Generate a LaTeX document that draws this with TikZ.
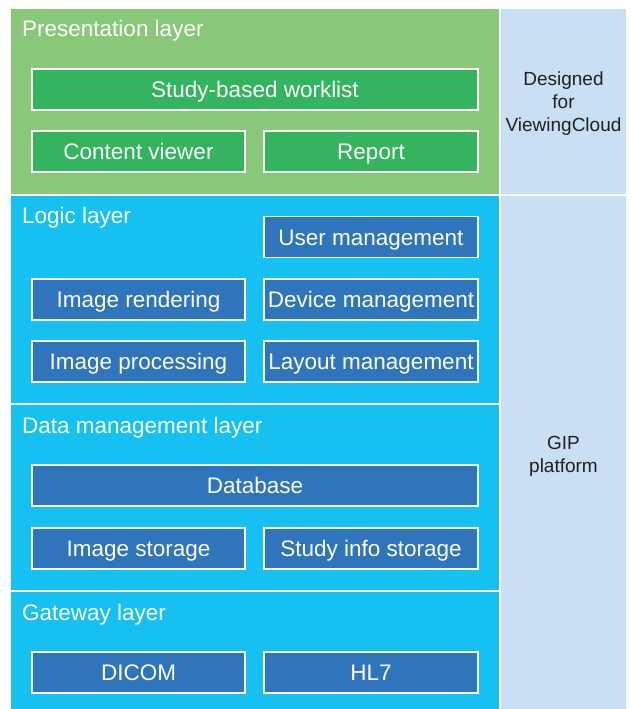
\documentclass[tikz,border=0pt]{standalone}
\usepackage{fontspec}
\setmainfont{Liberation Sans}
\definecolor{presfill}{HTML}{88C878}
\definecolor{presbox}{HTML}{34B45E}
\definecolor{layerblue}{HTML}{16C1F2}
\definecolor{boxblue}{HTML}{2E75BB}
\definecolor{sidefill}{HTML}{C9DFF3}
\definecolor{sidetext}{HTML}{231F20}
\begin{document}
\begin{tikzpicture}[x=1pt,y=1pt,
  layer/.style={fill=#1, draw=none},
  layerlabel/.style={anchor=base west, inner sep=0pt, text=white,
    font=\fontsize{22.5}{27}\selectfont},
  comp/.style={draw=white, line width=1.4pt, fill=#1, text=white,
    inner sep=0pt, minimum height=41pt, text height=16.1pt, text depth=0pt,
    font=\fontsize{22.5}{27}\selectfont},
  halfl/.style={comp=#1, minimum width=213pt},
  halfr/.style={comp=#1, minimum width=214pt},
  full/.style={comp=#1, minimum width=446pt},
  sidelabel/.style={align=center, inner sep=0pt, text=sidetext,
    font=\fontsize{19}{23}\selectfont}]
\useasboundingbox (0,0) rectangle (632,-709);

% layer bands
\fill[layer=presfill]   (11,-9)   rectangle (499,-194);
\fill[layer=layerblue]  (11,-196) rectangle (499,-403);
\fill[layer=layerblue]  (11,-405) rectangle (499,-590);
\fill[layer=layerblue]  (11,-592) rectangle (499,-709);

% side column
\fill[layer=sidefill] (501,-9)   rectangle (626,-194);
\fill[layer=sidefill] (501,-196) rectangle (626,-709);

% layer titles
\node[layerlabel] (lpres) at (22,-36.7)  {Presentation layer};
\node[layerlabel] (llog)  at (22,-223.7) {Logic layer};
\node[layerlabel] (ldata) at (22,-433.5) {Data management layer};
\node[layerlabel] (lgate) at (22,-620)   {Gateway layer};

% presentation layer
\node[full=presbox]  (worklist) at (255,-89.5)   {Study-based worklist};
\node[halfl=presbox] (viewer)   at (138.5,-151.5) {Content viewer};
\node[halfr=presbox] (report)   at (371,-151.5)   {Report};

% logic layer
\node[halfr=boxblue] (user)   at (371,-237)     {User management};
\node[halfl=boxblue] (render) at (138.5,-299.5) {Image rendering};
\node[halfr=boxblue] (device) at (371,-299.5)   {Device management};
\node[halfl=boxblue] (proc)   at (138.5,-361.5) {Image processing};
\node[halfr=boxblue] (layout) at (371,-361.5)   {Layout management};

% data management layer
\node[full=boxblue]  (db)      at (255,-485.5)   {Database};
\node[halfl=boxblue] (storage) at (138.5,-548.5) {Image storage};
\node[halfr=boxblue] (study)   at (371,-548.5)   {Study info storage};

% gateway layer
\node[halfl=boxblue] (dicom) at (138.5,-672.5) {DICOM};
\node[halfr=boxblue] (hl7)   at (371,-672.5)   {HL7};

% side column labels
\node[sidelabel] (designed) at (563.5,-104) {Designed\\for\\ViewingCloud};
\node[sidelabel] (gip)      at (563.5,-456) {GIP\\platform};
\end{tikzpicture}
\end{document}
